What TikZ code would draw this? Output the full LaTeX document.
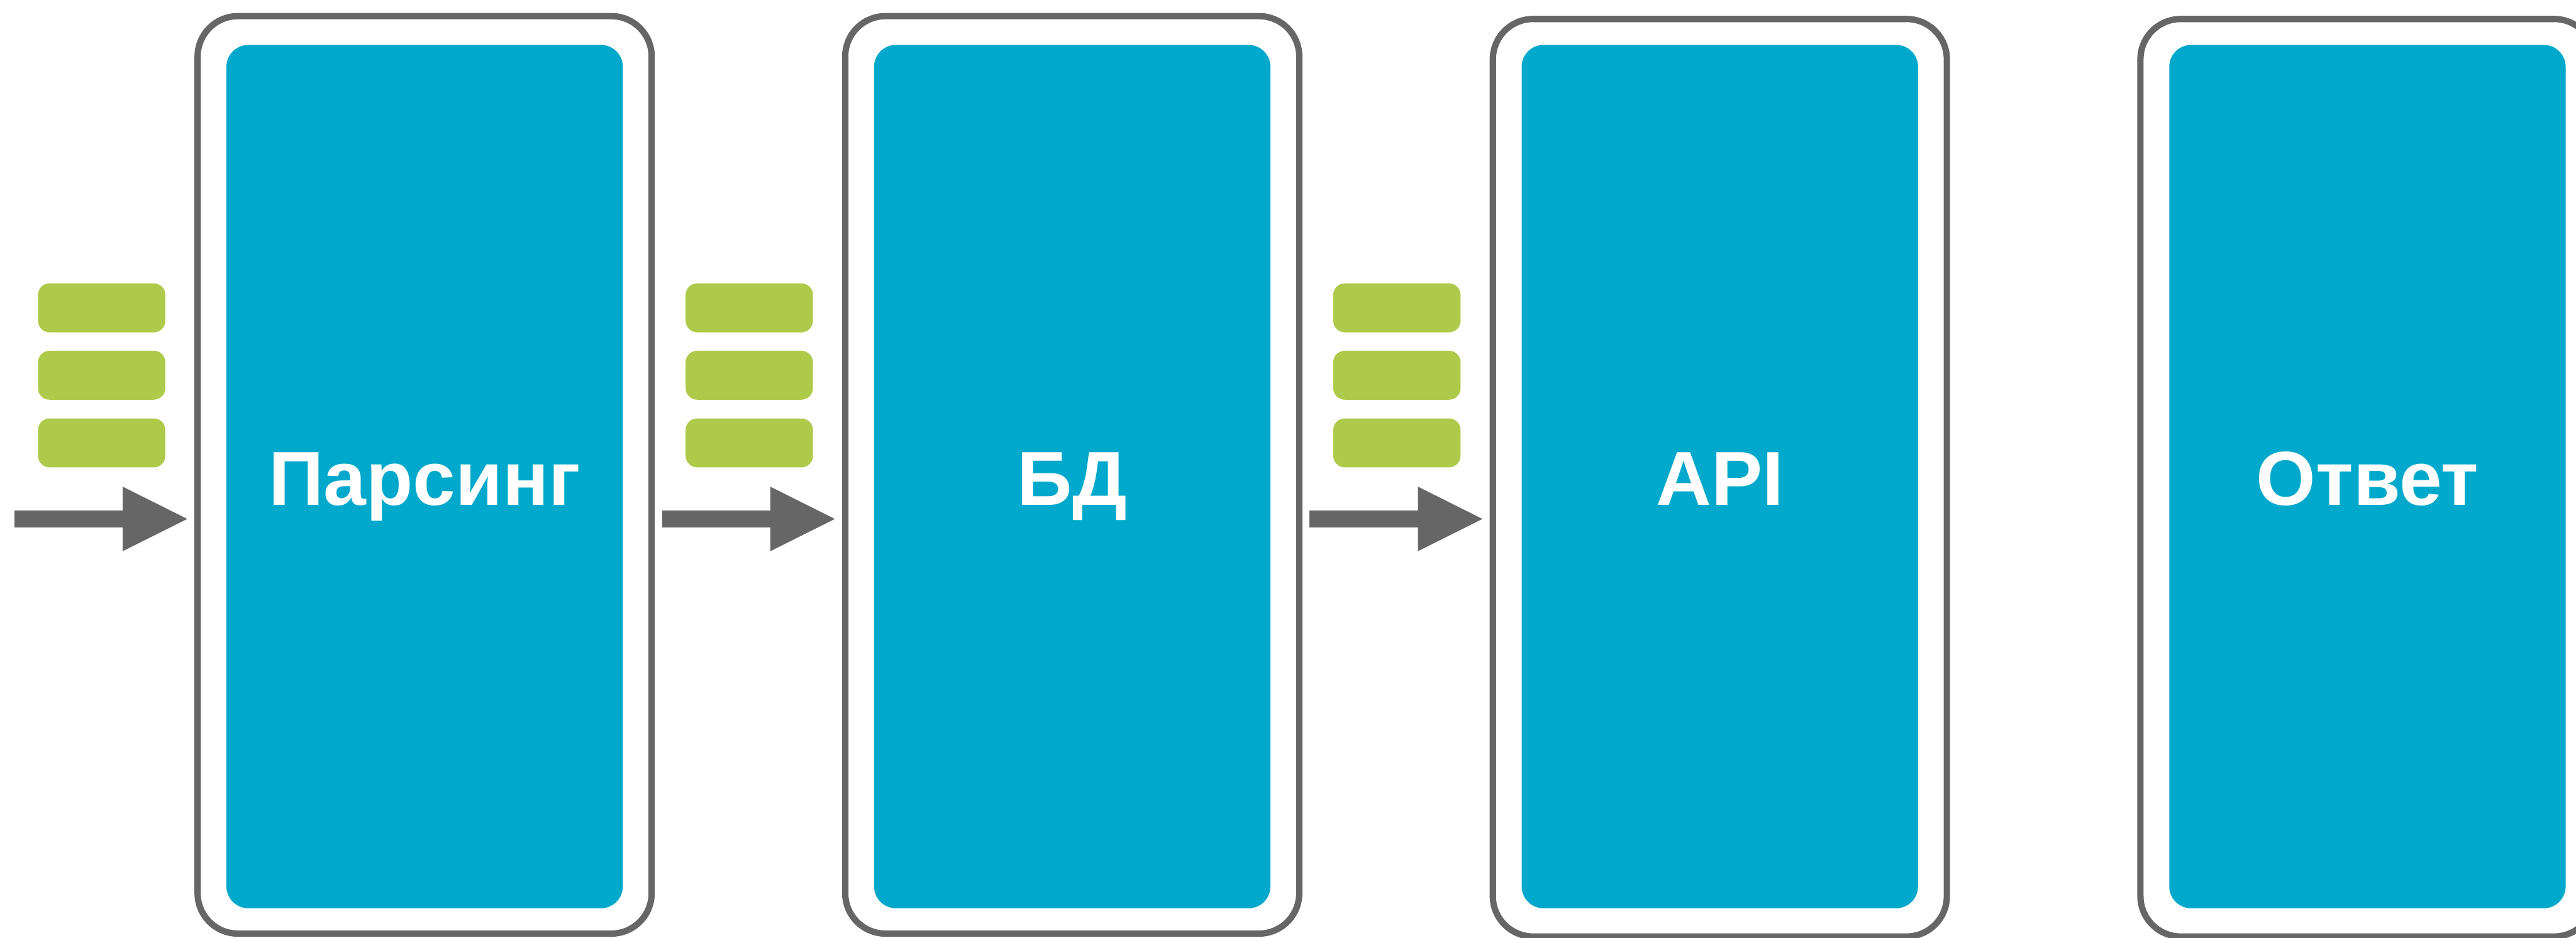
\documentclass[tikz,border=0pt]{standalone}
\usepackage{fontspec}
\setmainfont{Liberation Sans}
\usetikzlibrary{arrows.meta}
\definecolor{framegray}{HTML}{666666}
\definecolor{stageblue}{HTML}{00A9CB}
\definecolor{queuegreen}{HTML}{AECA4A}
\tikzset{
	stageframe/.style={draw=framegray, line width=0.11cm, rounded corners=0.7cm, minimum width=7.88cm, minimum height=15.93cm, inner sep=0pt},
	stage/.style={fill=stageblue, rounded corners=0.38cm, minimum width=6.88cm, minimum height=14.99cm, inner sep=0pt, text=white, font=\fontsize{37.8}{45}\selectfont\bfseries, text height=0.99cm, text depth=0pt},
	msg/.style={fill=queuegreen, rounded corners=0.2cm, minimum width=2.21cm, minimum height=0.85cm, inner sep=0pt},
	flow/.style={draw=framegray, line width=0.3cm, -{Triangle[length=1.12cm, width=1.12cm, line width=0pt]}, shorten >=0.125cm}
}

\begin{document}
\begin{tikzpicture}
			%%%%% START %%%%%
			\useasboundingbox (0, 0) rectangle (44.71, 16.28);
			
			\node[stageframe] (f1) at (7.37, 8.035) {};
			\node[stageframe] (f2) at (18.61, 8.035) {};
			\node[stageframe] (f3) at (29.85, 7.985) {};
			\node[stageframe] (f4) at (41.09, 7.985) {};
			
			\node[stage] (parse) at (7.37, 8.005) {Парсинг};
			\node[stage] (db) at (18.61, 8.005) {БД};
			\node[stage] (api) at (29.85, 8.005) {API};
			\node[stage] (reply) at (41.09, 8.005) {Ответ};
			
			\node[msg] (m1a) at (1.765, 10.935) {};
			\node[msg] (m1b) at (1.765, 9.765) {};
			\node[msg] (m1c) at (1.765, 8.59) {};
			
			\node[msg] (m2a) at (13.005, 10.935) {};
			\node[msg] (m2b) at (13.005, 9.765) {};
			\node[msg] (m2c) at (13.005, 8.59) {};
			
			\node[msg] (m3a) at (24.245, 10.935) {};
			\node[msg] (m3b) at (24.245, 9.765) {};
			\node[msg] (m3c) at (24.245, 8.59) {};
			
			\coordinate (in1) at (0.25, 7.27);
			\coordinate (in2) at (11.49, 7.27);
			\coordinate (in3) at (22.73, 7.27);
			\draw[flow] (in1) -- (in1 -| f1.west);
			\draw[flow] (in2) -- (in2 -| f2.west);
			\draw[flow] (in3) -- (in3 -| f3.west);
			%%%%% END %%%%%
\end{tikzpicture}
\end{document}
